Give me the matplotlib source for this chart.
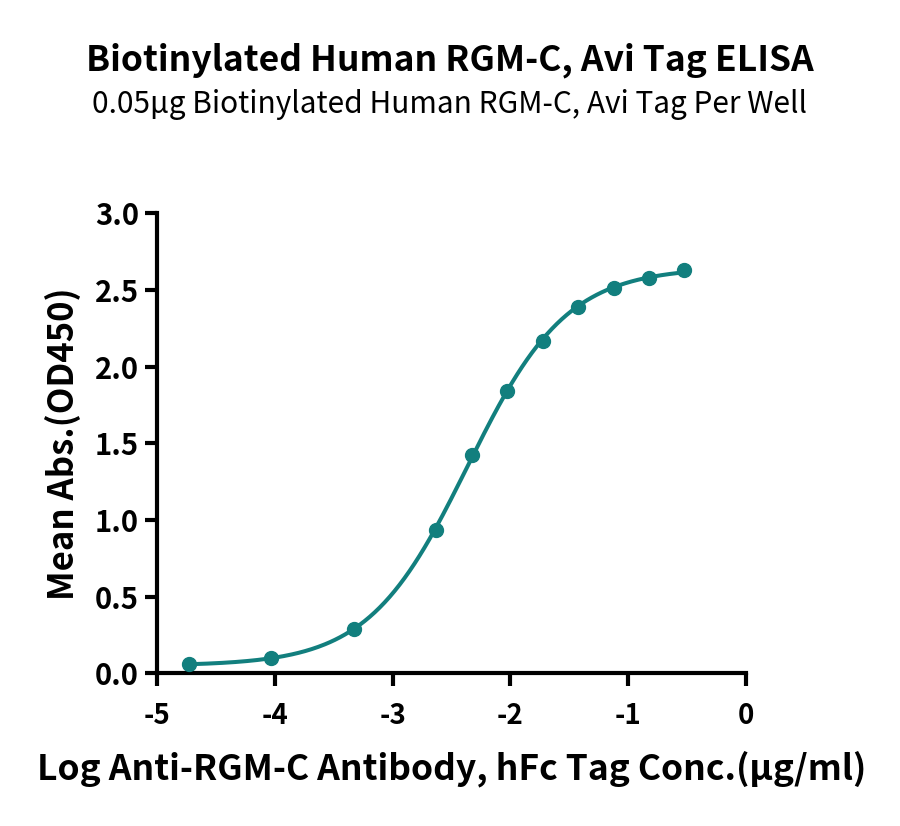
import numpy as np
import matplotlib
matplotlib.use('Agg')
import matplotlib.pyplot as plt

plt.rcParams['font.family'] = ['Noto Sans CJK SC', 'DejaVu Sans']

# log concentration (ug/ml) and mean absorbance
log_conc = [-4.727, -4.028, -3.329, -2.630, -2.329, -2.028, -1.727, -1.426, -1.125, -0.824, -0.523]
mean_abs = [0.061, 0.100, 0.290, 0.937, 1.422, 1.842, 2.169, 2.387, 2.515, 2.580, 2.630]

x_ticks = [-5, -4, -3, -2, -1, 0]
y_ticks = [0.0, 0.5, 1.0, 1.5, 2.0, 2.5, 3.0]

title = 'Biotinylated Human RGM-C, Avi Tag ELISA'
subtitle = '0.05\u03bcg Biotinylated Human RGM-C, Avi Tag Per Well'
x_label = 'Log Anti-RGM-C Antibody, hFc Tag Conc.(\u03bcg/ml)'
y_label = 'Mean Abs.(OD450)'

teal = '#127f7e'


def fit_4pl(x, y):
    # grid over ec50 / hill, bottom and top come out of a linear solve
    x = np.asarray(x)
    y = np.asarray(y)
    best = None
    for c in np.linspace(-3.5, -1.5, 401):
        for h in np.linspace(0.5, 2.5, 201):
            f = 1.0 / (1.0 + 10 ** ((c - x) * h))
            A = np.column_stack([np.ones_like(f), f])
            coef, *_ = np.linalg.lstsq(A, y, rcond=None)
            err = np.sum((A @ coef - y) ** 2)
            if best is None or err < best[0]:
                best = (err, coef[0], coef[1], c, h)
    _, b, span, c, h = best
    return lambda t: b + span / (1.0 + 10 ** ((c - t) * h))


curve = fit_4pl(log_conc, mean_abs)
xs = np.linspace(min(log_conc), max(log_conc), 300)

fig = plt.figure(figsize=(9, 8.26), dpi=100)
ax = fig.add_axes([0.1744, 0.1849, 0.829 - 0.1744, 0.7418 - 0.1849])

ax.plot(xs, curve(xs), color=teal, lw=2.9, solid_capstyle='round', zorder=3)
ax.plot(log_conc, mean_abs, 'o', color=teal, ms=10, zorder=4, clip_on=False)

ax.set_xlim(-5, 0)
ax.set_ylim(0, 3.0)
ax.set_xticks(x_ticks)
ax.set_xticklabels([str(t) for t in x_ticks])
ax.set_yticks(y_ticks)
ax.set_yticklabels([f'{t:.1f}' for t in y_ticks])

for side in ['top', 'right']:
    ax.spines[side].set_visible(False)
for side in ['left', 'bottom']:
    ax.spines[side].set_linewidth(3)
    ax.spines[side].set_capstyle('projecting')

ax.tick_params(axis='both', length=9, width=3, direction='out')
ax.tick_params(axis='x', labelsize=20, pad=12)
ax.tick_params(axis='y', labelsize=21, pad=4)
for lab in ax.get_xticklabels() + ax.get_yticklabels():
    lab.set_fontweight('heavy')

ax.set_xlabel(x_label, fontsize=25.5, fontweight='heavy', labelpad=14)
ax.set_ylabel(y_label, fontsize=25, fontweight='heavy', labelpad=10)

fig.text(0.5, 0.927, title, ha='center', va='center', fontsize=25.5, fontweight='bold')
fig.text(0.5, 0.873, subtitle, ha='center', va='center', fontsize=21.5)

fig.savefig('out.png', dpi=100)
